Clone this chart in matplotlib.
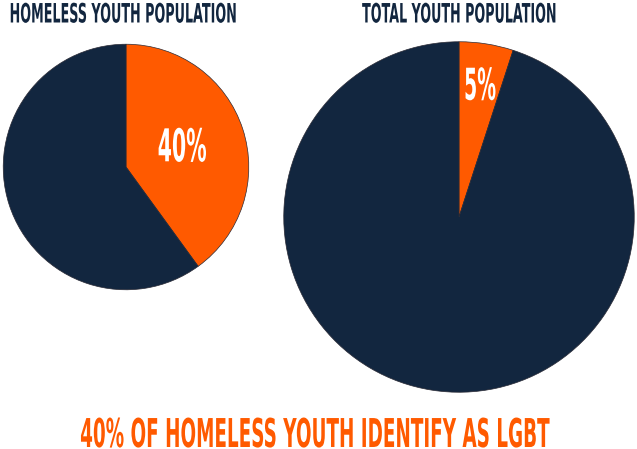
import matplotlib
matplotlib.use("Agg")
import matplotlib.pyplot as plt
from matplotlib.patheffects import AbstractPathEffect
from matplotlib.transforms import Affine2D

W, H = 637, 449
NAVY = "#12263f"
ORANGE = "#ff5a00"
FONT = ["DejaVu Sans"]

# data
homeless_share = [40, 60]   # LGBT, other
total_share = [5, 95]
titles = ["HOMELESS YOUTH POPULATION", "TOTAL YOUTH POPULATION"]
headline = "40% OF HOMELESS YOUTH IDENTIFY AS LGBT"

fig = plt.figure(figsize=(W / 100, H / 100), dpi=100)
renderer = fig.canvas.get_renderer()


class Squeeze(AbstractPathEffect):
    """Narrows the glyphs horizontally around their centre (condensed look)."""

    def __init__(self, sx):
        super().__init__()
        self.sx = sx

    def draw_path(self, renderer, gc, tpath, affine, rgbFace=None):
        ext = tpath.transformed(affine).get_extents()
        cx = 0.5 * (ext.x0 + ext.x1)
        sq = Affine2D().translate(-cx, 0).scale(self.sx, 1).translate(cx, 0)
        renderer.draw_path(gc, tpath, affine + sq, rgbFace)


def condense(t, cap_px, width_px):
    # cap height of DejaVu Sans Bold ~0.73 em
    t.set_fontsize(cap_px / 0.73 * 72 / 100)
    w = t.get_window_extent(renderer).width
    t.set_path_effects([Squeeze(width_px / w)])
    return t


def px_axes(cx, cy, r):
    return [(cx - r) / W, (H - cy - r) / H, 2 * r / W, 2 * r / H]


def draw_pie(rect, vals, pctdist, cap, label_w):
    ax = fig.add_axes(rect)
    wedges, _, autot = ax.pie(vals, colors=[ORANGE, NAVY], startangle=90,
                              counterclock=False, radius=1,
                              autopct=lambda p: f"{p:.0f}%" if p < 50 else "",
                              pctdistance=pctdist,
                              wedgeprops=dict(edgecolor="#2a2a35", linewidth=0.5))
    ax.set_xlim(-1.01, 1.01)
    ax.set_ylim(-1.01, 1.01)
    ax.set_aspect("equal")
    ax.axis("off")
    for t in autot:
        if t.get_text():
            t.set_color("white")
            t.set_family(FONT)
            t.set_fontweight("bold")
            condense(t, cap, label_w)
    return ax


draw_pie(px_axes(126, 167, 124), homeless_share, 0.48, 33, 49)
draw_pie(px_axes(459, 217, 177), total_share, 0.75, 32, 32)

kw = dict(family=FONT, fontweight="bold", ha="center", va="baseline")
condense(fig.text(124 / W, 1 - 22.5 / H, titles[0], color=NAVY, **kw), 19.5, 228)
condense(fig.text(460.5 / W, 1 - 22.5 / H, titles[1], color=NAVY, **kw), 19.5, 195)
condense(fig.text(315 / W, 1 - 447 / H, headline, color=ORANGE, **kw), 29, 470)

fig.savefig("out.png", dpi=100)
